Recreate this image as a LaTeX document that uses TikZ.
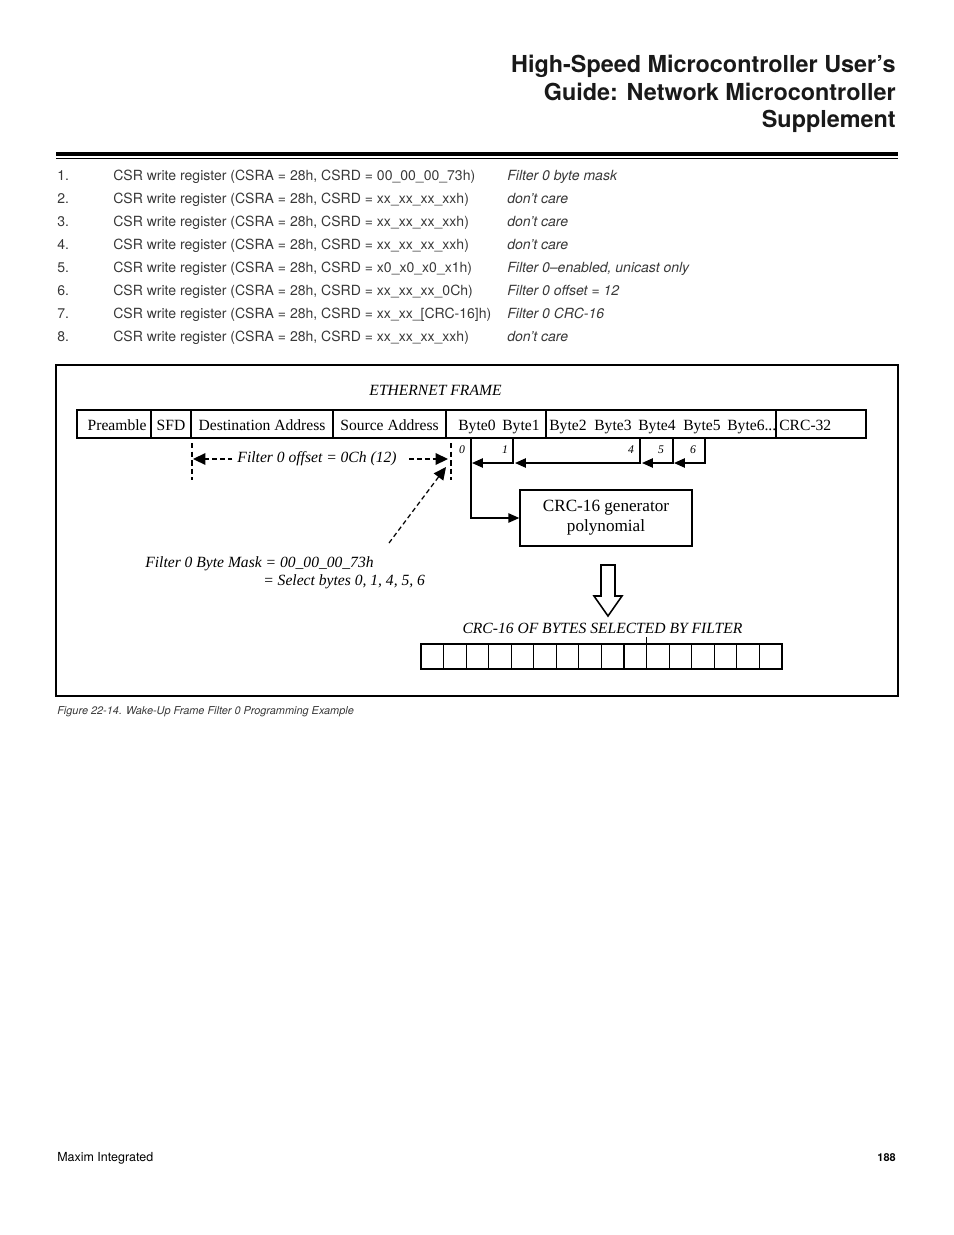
\documentclass[tikz,border=0pt]{standalone}
\usepackage{fontspec}
\setmainfont{Liberation Serif}
\setsansfont{TeX Gyre Heros}
\usetikzlibrary{arrows.meta,positioning}
\def\px{0.6415pt}

\begin{document}
\begin{tikzpicture}[x=\px,y=-\px,
	cell/.style={draw, line width=0.7pt, anchor=west, inner sep=0pt, outer sep=0pt, minimum height={28*\px}, text height=9pt, text depth=1.3pt, font=\fontsize{10}{12}\selectfont},
	bytelbl/.style={anchor=base west, inner sep=0pt, font=\fontsize{10}{12}\selectfont},
	idx/.style={anchor=base, inner sep=0pt, font=\itshape\fontsize{7.5}{9}\selectfont},
	lbl/.style={inner sep=0pt, font=\itshape\fontsize{10}{12}\selectfont},
	listtxt/.style={anchor=base west, inner sep=0pt, text=black!78, font=\sffamily\fontsize{9}{11}\selectfont},
	ptr/.style={line width=0.9pt, -{Triangle[length=7pt,width=6pt]}},
	offarrow/.style={line width=0.8pt, dash pattern=on 3pt off 2pt, -{Triangle[length=8pt,width=7.5pt]}},
	guide/.style={line width=0.7pt, dash pattern=on 3.5pt off 2pt},
	bit/.style={draw, line width=0.7pt, inner sep=0pt, outer sep=0pt, minimum width={22.56*\px}, minimum height={25*\px}}]
	\useasboundingbox (0,0) rectangle (954,1235);

	% Page title and rules
	\node[anchor=base east, inner sep=0pt, text=black!90, font=\sffamily\bfseries\fontsize{15}{18}\selectfont] (title1) at (896,72) {High-Speed Microcontroller User’s};
	\node[anchor=base east, inner sep=0pt, text=black!90, font=\sffamily\bfseries\fontsize{15}{18}\selectfont] (title2) at (896,100) {Guide: Network Microcontroller};
	\node[anchor=base east, inner sep=0pt, text=black!90, font=\sffamily\bfseries\fontsize{15}{18}\selectfont] (title3) at (896,127) {Supplement};
	\draw[line width=2.6pt] (56,154) -- (898,154);
	\draw[line width=0.8pt] (56,158.5) -- (898,158.5);

	% Register writes
	\foreach \csrd/\note [count=\k] in {00\_00\_00\_73h/Filter 0 byte mask, xx\_xx\_xx\_xxh/don’t care, xx\_xx\_xx\_xxh/don’t care, xx\_xx\_xx\_xxh/don’t care, x0\_x0\_x0\_x1h/{Filter 0--enabled, unicast only}, xx\_xx\_xx\_0Ch/Filter 0 offset = 12, xx\_xx\_[CRC-16]h/Filter 0 CRC-16, xx\_xx\_xx\_xxh/don’t care} {
		\node[listtxt] (num\k) at (57,157+23*\k) {\k.};
		\node[listtxt] (reg\k) at (113,157+23*\k) {CSR write register (CSRA = 28h, CSRD = \csrd)};
		\node[listtxt, font=\sffamily\itshape\fontsize{9}{11}\selectfont] (note\k) at (507,157+23*\k) {\note};
	}

	% Figure frame
	\draw[line width=0.7pt] (56,365) rectangle (898,696);
	\node[lbl, anchor=base] (ethtitle) at (435.5,395) {ETHERNET FRAME};

	% Ethernet frame fields
	\node[cell, minimum width={74*\px}] (pre) at (77,424) {\hspace{4pt}Preamble};
	\node[cell, minimum width={40*\px}, right=0pt of pre] (sfd) {SFD};
	\node[cell, minimum width={142*\px}, right=0pt of sfd] (dst) {Destination Address};
	\node[cell, minimum width={113*\px}, right=0pt of dst] (src) {Source Address\hspace{2pt}};
	\node[cell, minimum width={100*\px}, right=0pt of src] (byteA) {};
	\node[cell, minimum width={230*\px}, right=0pt of byteA] (byteB) {};
	\node[cell, minimum width={90*\px}, right=0pt of byteB] (fcs) {};
	\foreach \b/\x in {0/458,1/502,2/549,3/594,4/638,5/683}
		\node[bytelbl] (byte\b) at (\x,430) {Byte\b};
	\node[bytelbl] (byte6) at (727,430) {Byte6...};
	\node[bytelbl] (crc32) at (779,430) {CRC-32};

	% Offset dimension
	\draw[guide] (192,443) -- (192,480);
	\draw[guide] (451,443) -- (451,480);
	\coordinate (offL) at (193,459);
	\coordinate (offR) at (448,459);
	\node[lbl, inner xsep=3pt] (offset) at (317,459) {Filter 0 offset = 0Ch (12)};
	\draw[offarrow] (offset.west) -- (offL);
	\draw[offarrow, shorten <=5pt] (offset.east) -- (offR);

	% Byte mask
	\node[lbl, anchor=base west] (mask) at (145,567) {Filter 0 Byte Mask = 00\_00\_00\_73h};
	\node[lbl, anchor=base west] (masksel) at (263,585) {= Select bytes 0, 1, 4, 5, 6};
	\coordinate (maskfrom) at (389,543);
	\coordinate (maskto) at (446,467);
	\draw[offarrow] (maskfrom) -- (maskto);

	% Selected bytes
	\foreach \b/\x in {0/462,1/505,4/631,5/661,6/693}
		\node[idx] (idx\b) at (\x,453) {\b};
	\foreach \b/\x in {0/471,1/513,4/640,5/673,6/705}
		\coordinate (tap\b) at (\x,438);
	\foreach \b/\x in {0/472,1/515,4/642,5/674}
		\coordinate (tip\b) at (\x,463);
	\foreach \from/\to in {6/5,5/4,4/1,1/0}
		\draw[ptr] (tap\from) |- (tip\to);

	% CRC-16 generator
	\node[draw, line width=0.9pt, minimum width={172*\px}, minimum height={56*\px}, align=center, font=\fontsize{11}{13}\selectfont] (crc) at (606,518) {CRC-16 generator\\polynomial};
	\draw[ptr] (tap0) |- (crc.west);

	% Result arrow
	\draw[line width=1pt] (601,565) -- (615,565) -- (615,596) -- (622,596) -- (608,616) -- (594,596) -- (601,596) -- cycle;

	% CRC-16 result register
	\node[lbl, anchor=base] (crctitle) at (602.5,633) {CRC-16 OF BYTES SELECTED BY FILTER};
	\foreach \i in {0,...,15}
		\node[bit] (bit\i) at ({421+22.56*(\i+0.5)},656.5) {};
	\draw[line width=0.7pt] (bit9.north east) -- ++(0,-7);

	% Caption and footer
	\node[anchor=base west, inner sep=0pt, text=black!78, font=\sffamily\itshape\fontsize{7}{8.4}\selectfont] (caption) at (57,714) {Figure 22-14. Wake-Up Frame Filter 0 Programming Example};
	\node[anchor=base west, inner sep=0pt, font=\sffamily\fontsize{8}{10}\selectfont] (maker) at (57,1161) {Maxim Integrated};
	\node[anchor=base east, inner sep=0pt, font=\sffamily\bfseries\fontsize{7}{9}\selectfont] (page) at (896,1161) {188};
\end{tikzpicture}
\end{document}
